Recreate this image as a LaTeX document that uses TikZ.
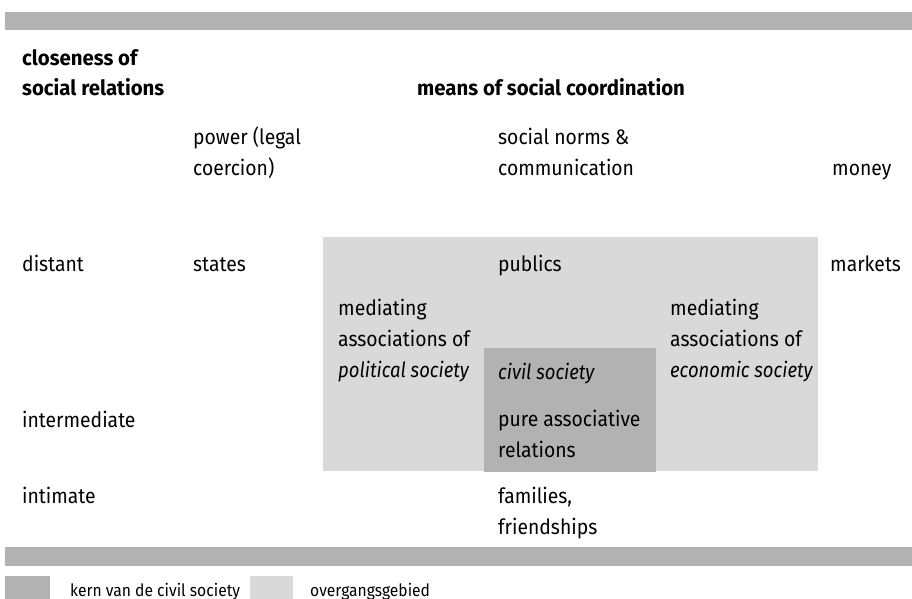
\documentclass[tikz,border=0pt]{standalone}
\usepackage{fontspec}
\setmainfont{Fira Sans}[FakeStretch=0.92, BoldFeatures={FakeStretch=0.97}, ItalicFeatures={FakeStretch=0.88}]
\usepackage{tikz}

\definecolor{kern}{gray}{0.70}
\definecolor{overgang}{gray}{0.85}

\tikzset{
	lbl/.style={anchor=base west, inner sep=0pt, align=left, font=\fontsize{21}{31}\selectfont},
	hdr/.style={lbl, font=\fontsize{21}{31}\selectfont\bfseries},
	key/.style={lbl, font=\fontsize{17}{30}\selectfont},
	field/.style={fill=overgang, draw=none},
	core/.style={fill=kern, draw=none}
}

\begin{document}
\begin{tikzpicture}[x=1pt,y=-1pt]
				\useasboundingbox (0,0) rectangle (912,599);
				\begin{scope}
					% balken
					\fill[kern] (5,12) rectangle (912,30);
					\fill[kern] (5,547) rectangle (912,566);

					% vlakken
					\node[field, minimum width=495pt, minimum height=234pt, anchor=north west] (trans) at (323,237) {};
					\node[core, minimum width=172pt, minimum height=124pt, anchor=north west] (core) at (484,348) {};

					% koppen (base = laatste regel)
					\node[hdr] (closeness) at (22,96) {closeness of\\social relations};
					\node[hdr] (means) at (417,96) {means of social coordination};

					\node[lbl] (power) at (193,175) {power (legal\\coercion)};
					\node[lbl] (norms) at (498,175) {social norms \&\\communication};
					\node[lbl] (money) at (832,175) {money};

					% rijen
					\node[lbl] (distant) at (22,271) {distant};
					\node[lbl] (states) at (193,271) {states};
					\node[lbl] (publics) at (498,271) {publics};
					\node[lbl] (markets) at (830,271) {markets};

					\node[lbl] (polmed) at (338,377) {mediating\\associations of\\\textit{political society}};
					\node[lbl] (ecomed) at (670,377) {mediating\\associations of\\\textit{economic society}};
					\node[lbl] (civil) at (498,379) {\textit{civil society}};

					\node[lbl] (intermediate) at (22,427) {intermediate};
					\node[lbl] (pure) at (498,457) {pure associative\\relations};

					\node[lbl] (intimate) at (22,503) {intimate};
					\node[lbl] (families) at (498,534) {families,\\friendships};

					% legenda
					\node[core, minimum width=45pt, minimum height=24pt, anchor=north west] (keycore) at (5,576) {};
					\node[key] (keycoretxt) at (70,596) {kern van de civil society};
					\node[field, minimum width=43pt, minimum height=24pt, anchor=north west] (keytrans) at (250,576) {};
					\node[key] (keytranstxt) at (310,596) {overgangsgebied};
				\end{scope}
			\end{tikzpicture}
\end{document}
